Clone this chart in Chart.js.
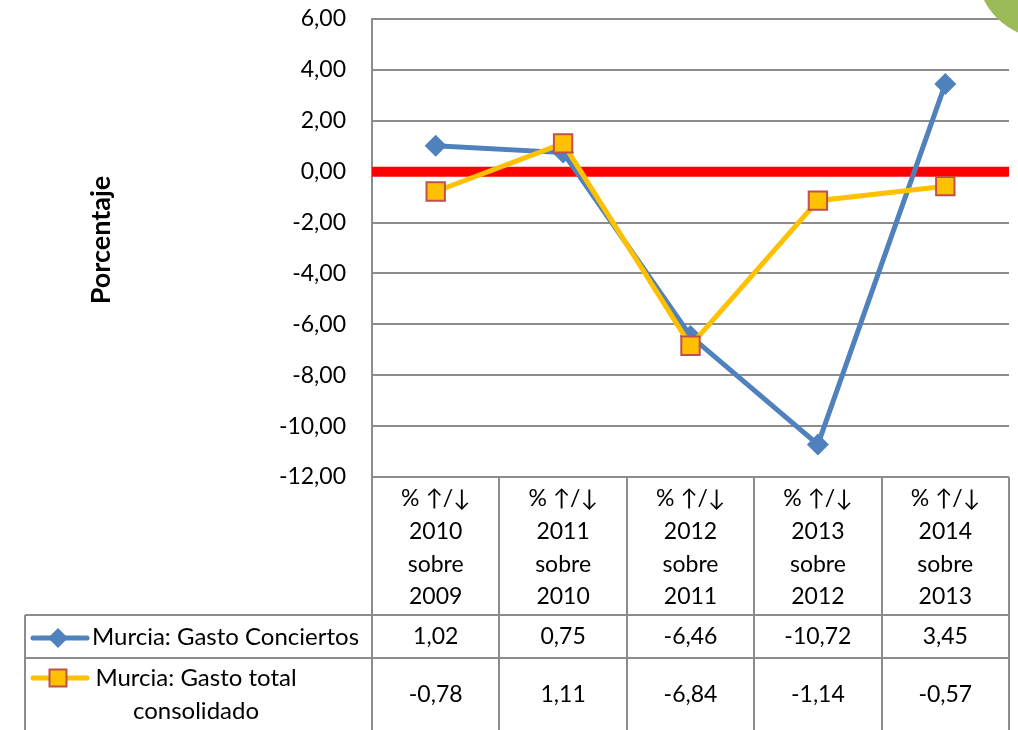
<!DOCTYPE html>
<html>
<head>
<meta charset="utf-8">
<script src="https://cdn.jsdelivr.net/npm/chart.js@4.4.1/dist/chart.umd.min.js"></script>
<style>
  html, body { margin: 0; padding: 0; background: #fff; }
  #wrap { width: 1018px; height: 730px; position: relative; overflow: hidden; }
</style>
</head>
<body>
<div id="wrap"><canvas id="chart1" width="1018" height="730"></canvas></div>
<script>
// categories (each one drawn on 4 lines in the data table)
const categorias = [
  ['% \u2191/\u2193', '2010', 'sobre', '2009'],
  ['% \u2191/\u2193', '2011', 'sobre', '2010'],
  ['% \u2191/\u2193', '2012', 'sobre', '2011'],
  ['% \u2191/\u2193', '2013', 'sobre', '2012'],
  ['% \u2191/\u2193', '2014', 'sobre', '2013']
];
const conciertos = [1.02, 0.75, -6.46, -10.72, 3.45];
const gastoTotal = [-0.78, 1.11, -6.84, -1.14, -0.57];
const nombreConciertos = 'Murcia: Gasto Conciertos';
const nombreTotal = ['Murcia: Gasto total', 'consolidado'];
const yMin = -12, yMax = 6, yPaso = 2;

const FONT = 'Lato, "Open Sans", sans-serif';
const GRIS = '#8c8c8c';
const AZUL = '#4F81BD';
const NARANJA = '#FFC000';
const ROJO_BORDE = '#C0504D';

const fmt = v => v.toFixed(2).replace('.', ',');

function diamante(ctx, x, y, r) {
  ctx.beginPath();
  ctx.moveTo(x, y - r); ctx.lineTo(x + r, y); ctx.lineTo(x, y + r); ctx.lineTo(x - r, y);
  ctx.closePath();
  ctx.fillStyle = AZUL;
  ctx.fill();
}
function cuadrado(ctx, x, y, s) {
  ctx.fillStyle = NARANJA;
  ctx.fillRect(x - s / 2, y - s / 2, s, s);
  ctx.strokeStyle = ROJO_BORDE;
  ctx.lineWidth = 2;
  ctx.strokeRect(x - s / 2, y - s / 2, s, s);
}

const tablaPlugin = {
  id: 'tabla',
  beforeDatasetsDraw(chart) {
    // linea roja en 0
    const { ctx, chartArea } = chart;
    const y0 = chart.scales.y.getPixelForValue(0);
    ctx.save();
    ctx.strokeStyle = '#FF0000';
    ctx.lineWidth = 10;
    ctx.beginPath();
    ctx.moveTo(chartArea.left, y0);
    ctx.lineTo(chartArea.right, y0);
    ctx.stroke();
    ctx.restore();
  },
  afterDraw(chart) {
    const { ctx, chartArea } = chart;
    const xs = chart.scales.x;
    const n = categorias.length;
    const w = (chartArea.right - chartArea.left) / n;
    const top = chartArea.bottom;
    const fila1 = 615, fila2 = 658, fondo = 730, izq = 25;

    ctx.save();
    // green decoration
    ctx.fillStyle = '#9BBB59';
    ctx.beginPath();
    ctx.arc(1045, -30, 68, 0, Math.PI * 2);
    ctx.fill();

    // grid of the table
    ctx.strokeStyle = GRIS;
    ctx.lineWidth = 2;
    ctx.beginPath();
    for (let i = 0; i <= n; i++) {
      const x = Math.round(chartArea.left + i * w);
      ctx.moveTo(x, top);
      ctx.lineTo(x, fondo);
    }
    ctx.moveTo(chartArea.left, top); ctx.lineTo(chartArea.right, top);
    ctx.moveTo(izq, fila1); ctx.lineTo(chartArea.right, fila1);
    ctx.moveTo(izq, fila2); ctx.lineTo(chartArea.right, fila2);
    ctx.moveTo(izq, fila1); ctx.lineTo(izq, fondo);
    ctx.stroke();

    // category labels
    ctx.fillStyle = '#000';
    ctx.font = '23px ' + FONT;
    ctx.textAlign = 'center';
    ctx.textBaseline = 'middle';
    for (let i = 0; i < n; i++) {
      const cx = xs.getPixelForValue(i);
      categorias[i].forEach((t, k) => ctx.fillText(t, cx, 499 + k * 32.6));
      ctx.fillText(fmt(conciertos[i]), cx, 637);
      ctx.fillText(fmt(gastoTotal[i]), cx, 695);
    }

    // legend keys
    ctx.lineWidth = 5;
    ctx.lineCap = 'round';
    ctx.strokeStyle = AZUL;
    ctx.beginPath(); ctx.moveTo(33, 638); ctx.lineTo(87, 638); ctx.stroke();
    diamante(ctx, 58, 638, 10);
    ctx.strokeStyle = NARANJA;
    ctx.beginPath(); ctx.moveTo(33, 678); ctx.lineTo(87, 678); ctx.stroke();
    cuadrado(ctx, 58, 678, 17);

    ctx.fillStyle = '#000';
    ctx.font = '24px ' + FONT;
    ctx.textAlign = 'left';
    ctx.fillText(nombreConciertos, 92, 637);
    ctx.textAlign = 'center';
    ctx.fillText(nombreTotal[0], 196, 678);
    ctx.fillText(nombreTotal[1], 196, 711);

    // axis title
    ctx.translate(101, 240);
    ctx.rotate(-Math.PI / 2);
    ctx.font = 'bold 27px ' + FONT;
    ctx.fillText('Porcentaje', 0, 0);
    ctx.restore();
  }
};

new Chart(document.getElementById('chart1'), {
  type: 'line',
  data: {
    labels: categorias.map(c => c.join(' ')),
    datasets: [{
      label: nombreConciertos,
      data: conciertos,
      order: 1,
      borderColor: AZUL,
      backgroundColor: AZUL,
      borderWidth: 5,
      pointStyle: 'rectRot',
      pointRadius: 11,
      pointBorderWidth: 0,
      tension: 0
    }, {
      label: nombreTotal.join(' '),
      data: gastoTotal,
      order: 0,
      borderColor: NARANJA,
      backgroundColor: NARANJA,
      borderWidth: 5,
      pointStyle: 'rect',
      pointRadius: 13,
      pointBorderColor: ROJO_BORDE,
      pointBorderWidth: 2,
      tension: 0
    }]
  },
  options: {
    responsive: false,
    animation: false,
    devicePixelRatio: 1,
    layout: { autoPadding: false, padding: { top: 19, right: 9, bottom: 253, left: 0 } },
    plugins: { legend: { display: false }, tooltip: { enabled: false } },
    scales: {
      x: { display: false, offset: true },
      y: {
        min: yMin, max: yMax,
        afterFit(scale) { scale.width = 372; },
        ticks: {
          stepSize: yPaso,
          padding: 0,
          color: '#000',
          font: { family: FONT, size: 23 },
          callback: v => fmt(v)
        },
        grid: { color: GRIS, lineWidth: 2, drawTicks: true, tickLength: 26, tickColor: 'rgba(0,0,0,0)' },
        border: { color: GRIS, width: 2 }
      }
    }
  },
  plugins: [tablaPlugin]
});
</script>
</body>
</html>
